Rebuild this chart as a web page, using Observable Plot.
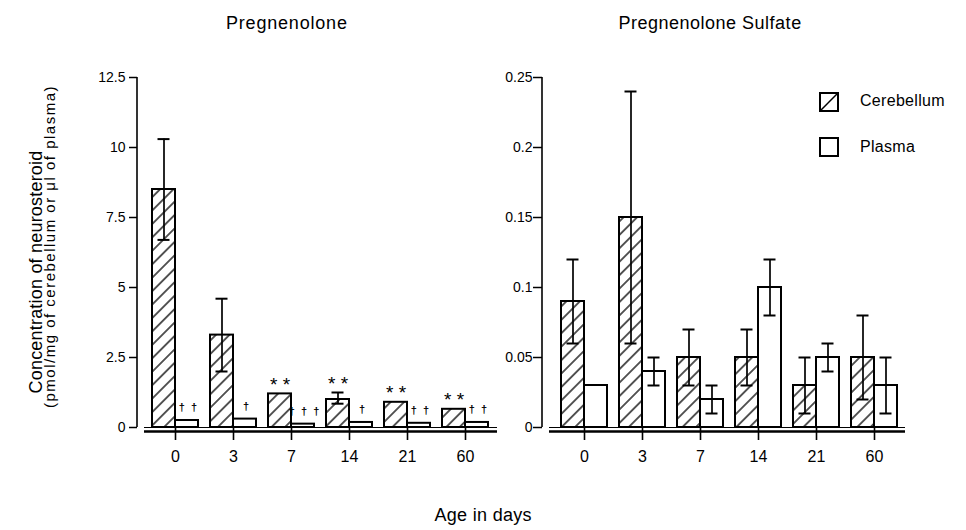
<!DOCTYPE html>
<html><head><meta charset="utf-8">
<script src="https://cdn.jsdelivr.net/npm/d3@7"></script>
<script src="https://cdn.jsdelivr.net/npm/@observablehq/plot@0.6"></script>
<style>
body{margin:0;background:#fff;font-family:"Liberation Sans",Arial,sans-serif;}
#fig{position:relative;width:966px;height:530px;overflow:hidden;background:#fff;}
.abs{position:absolute;white-space:nowrap;color:#000;line-height:1;}
.sw{position:absolute;width:16px;height:16px;border:2px solid #000;box-sizing:content-box;}
</style></head><body><div id="fig"></div>
<script>
// ---- data ----
const ages = ["0","3","7","14","21","60"];
// Pregnenolone
const pregCereb   = [8.5, 3.3, 1.2, 1.0, 0.9, 0.65];
const pregCerebLo = [6.7, 2.0, null, 0.85, null, null];
const pregCerebHi = [10.3, 4.6, null, 1.25, null, null];
const pregPlasma  = [0.25, 0.3, 0.12, 0.18, 0.15, 0.18];
const pregCerebMark  = ["", "", "* *", "* *", "* *", "* *"];
const pregPlasmaMark = ["†  †", "†", "†  †  †", "†", "†  †", "†  †"];
const pregTicks = [0, 2.5, 5, 7.5, 10, 12.5];
// Pregnenolone Sulfate
const sulfCereb   = [0.09, 0.15, 0.05, 0.05, 0.03, 0.05];
const sulfCerebLo = [0.06, 0.06, 0.03, 0.03, 0.01, 0.02];
const sulfCerebHi = [0.12, 0.24, 0.07, 0.07, 0.05, 0.08];
const sulfPlasma   = [0.03, 0.04, 0.02, 0.10, 0.05, 0.03];
const sulfPlasmaLo = [null, 0.03, 0.01, 0.08, 0.04, 0.01];
const sulfPlasmaHi = [null, 0.05, 0.03, 0.12, 0.06, 0.05];
const sulfTicks = [0, 0.05, 0.1, 0.15, 0.2, 0.25];

const seriesNames = ["Cerebellum", "Plasma"];
const titles = ["Pregnenolone", "Pregnenolone Sulfate"];
const xTitle = "Age in days";
const yTitle = "Concentration of neurosteroid";
const ySubtitle = "(pmol/mg of cerebellum or μl of plasma)";

function rows(c, clo, chi, p, plo, phi, cm, pm) {
  return ages.map((a, i) => ({
    age: a, cereb: c[i], clo: clo ? clo[i] : null, chi: chi ? chi[i] : null,
    plasma: p[i], plo: plo ? plo[i] : null, phi: phi ? phi[i] : null,
    cm: cm ? cm[i] : "", pm: pm ? pm[i] : "",
    ctop: Math.max(c[i], chi && chi[i] != null ? chi[i] : c[i]),
    ptop: Math.max(p[i], phi && phi[i] != null ? phi[i] : p[i])
  }));
}
const pregData = rows(pregCereb, pregCerebLo, pregCerebHi, pregPlasma, null, null, pregCerebMark, pregPlasmaMark);
const sulfData = rows(sulfCereb, sulfCerebLo, sulfCerebHi, sulfPlasma, sulfPlasmaLo, sulfPlasmaHi, null, null);

const FONT = '"Liberation Sans", Arial, sans-serif';

function hatchDefs(id) {
  return () => {
    const defs = d3.create("svg:defs");
    const p = defs.append("pattern").attr("id", id).attr("patternUnits", "userSpaceOnUse")
      .attr("width", 9.5).attr("height", 9.5).attr("patternTransform", "rotate(45)");
    p.append("rect").attr("width", 9.5).attr("height", 9.5).attr("fill", "white");
    p.append("line").attr("x1", 0).attr("y1", 0).attr("x2", 0).attr("y2", 9.5).attr("stroke", "black").attr("stroke-width", 1.3);
    p.append("line").attr("x1", 9.5).attr("y1", 0).attr("x2", 9.5).attr("y2", 9.5).attr("stroke", "black").attr("stroke-width", 1.3);
    return defs.node();
  };
}
function axisLine(top) {
  return (index, scales, values, dims) => d3.create("svg:line")
    .attr("x1", dims.marginLeft).attr("x2", dims.marginLeft)
    .attr("y1", scales.y(0)).attr("y2", scales.y(top))
    .attr("stroke", "black").attr("stroke-width", 1.6).node();
}

function panel({data, ticks, width, marginLeft, marginRight, xRange, hatch, tickSize, tickPadding}) {
  const half = 11.5;
  const cErr = data.filter(d => d.clo != null);
  const pErr = data.filter(d => d.plo != null);
  return Plot.plot({
    width, height: 470, marginTop: 77, marginBottom: 43, marginLeft, marginRight,
    style: {background: "transparent", fontFamily: FONT, color: "black", overflow: "visible"},
    x: {type: "band", domain: ages, range: xRange, paddingInner: 0.215, paddingOuter: 0.1075},
    y: {domain: [0, ticks[ticks.length - 1]]},
    marks: [
      hatchDefs(hatch),
      Plot.axisY({ticks, tickFormat: d => `${d}`, tickSize, tickPadding, fontSize: 14, label: null, strokeWidth: 1.5}),
      axisLine(ticks[ticks.length - 1]),
      Plot.barY(data, {x: "age", y: "cereb", insetRight: 23, fill: `url(#${hatch})`, stroke: "black", strokeWidth: 2}),
      Plot.barY(data, {x: "age", y: "plasma", insetLeft: 23, fill: "white", stroke: "black", strokeWidth: 2}),
      Plot.ruleX(cErr, {x: "age", y1: "clo", y2: "chi", dx: -half, strokeWidth: 1.7}),
      Plot.tickY(cErr, {x: "age", y: "chi", dx: -half, insetLeft: 17, insetRight: 17, strokeWidth: 2}),
      Plot.tickY(cErr, {x: "age", y: "clo", dx: -half, insetLeft: 17, insetRight: 17, strokeWidth: 2}),
      Plot.ruleX(pErr, {x: "age", y1: "plo", y2: "phi", dx: half, strokeWidth: 1.7}),
      Plot.tickY(pErr, {x: "age", y: "phi", dx: half, insetLeft: 17, insetRight: 17, strokeWidth: 2}),
      Plot.tickY(pErr, {x: "age", y: "plo", dx: half, insetLeft: 17, insetRight: 17, strokeWidth: 2}),
      Plot.text(data, {x: "age", y: "ctop", text: "cm", dx: -half, dy: -9, fontSize: 19, fill: "black"}),
      Plot.text(data, {x: "age", y: "ptop", text: "pm", dx: half + 1, dy: -13, fontSize: 11, fill: "black", fontWeight: "bold"}),
      Plot.ruleY([0], {insetLeft: 7, strokeWidth: 1}),
      Plot.ruleY([0], {insetLeft: 7, dy: 4, strokeWidth: 2.5}),
      Plot.axisX({tickSize: 13, tickPadding: 10, fontSize: 16, label: null, strokeWidth: 1.6})
    ]
  });
}

const fig = document.getElementById("fig");
const left = panel({data: pregData, ticks: pregTicks, width: 505, marginLeft: 137, marginRight: 8,
  xRange: [143.7, 495.3], hatch: "hatchL", tickSize: 8, tickPadding: 4});
left.style.position = "absolute"; left.style.left = "0px"; left.style.top = "0px";
fig.appendChild(left);
const right = panel({data: sulfData, ticks: sulfTicks, width: 461, marginLeft: 37, marginRight: 61,
  xRange: [47.7, 399.3], hatch: "hatchR", tickSize: 9, tickPadding: 1});
right.style.position = "absolute"; right.style.left = "505px"; right.style.top = "0px";
fig.appendChild(right);

function addText(txt, css) {
  const d = document.createElement("div");
  d.className = "abs"; d.textContent = txt;
  Object.assign(d.style, css);
  fig.appendChild(d);
  return d;
}
function centerAt(el, cx, cy) {
  const w = el.offsetWidth, h = el.offsetHeight;
  el.style.left = (cx - w / 2) + "px"; el.style.top = (cy - h / 2) + "px";
}
centerAt(addText(titles[0], {fontSize: "18px", letterSpacing: "0.8px"}), 287, 23);
centerAt(addText(titles[1], {fontSize: "18px", letterSpacing: "0.5px"}), 710, 23);
centerAt(addText(xTitle, {fontSize: "18px", letterSpacing: "0.3px"}), 483, 515);
const yt = addText(yTitle, {fontSize: "18px", letterSpacing: "0.2px"});
centerAt(yt, 36, 272); yt.style.transform = "rotate(-90deg)";
const ys = addText(ySubtitle, {fontSize: "15px", letterSpacing: "1.5px"});
centerAt(ys, 49, 246); ys.style.transform = "rotate(-90deg)";

// legend
const sw1 = document.createElement("div"); sw1.className = "sw";
Object.assign(sw1.style, {left: "819px", top: "92px"});
sw1.innerHTML = '<svg width="16" height="16" style="display:block"><line x1="0" y1="16" x2="16" y2="0" stroke="black" stroke-width="1.5"/></svg>';
fig.appendChild(sw1);
const sw2 = document.createElement("div"); sw2.className = "sw";
Object.assign(sw2.style, {left: "819px", top: "137px"});
fig.appendChild(sw2);
const l1 = addText(seriesNames[0], {fontSize: "16px", letterSpacing: "0.3px"});
l1.style.left = "860px"; l1.style.top = (101 - l1.offsetHeight / 2) + "px";
const l2 = addText(seriesNames[1], {fontSize: "16px", letterSpacing: "0.3px"});
l2.style.left = "860px"; l2.style.top = (147 - l2.offsetHeight / 2) + "px";
</script></body></html>
